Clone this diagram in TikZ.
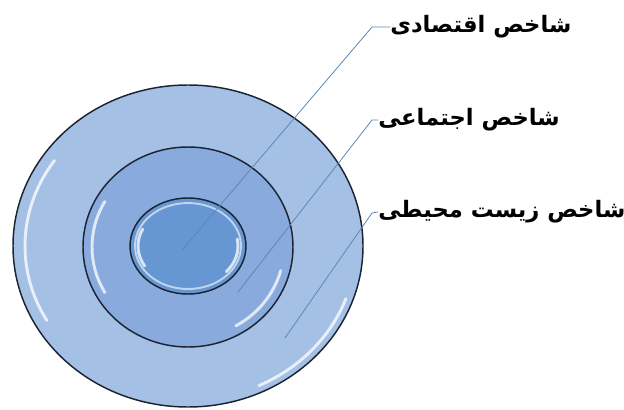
\documentclass[tikz,border=0pt]{standalone}
\usepackage{fontspec}
\newfontfamily\arabicfont[Script=Arabic]{DejaVu Sans}
\TeXXeTstate=1
\begin{document}
\begin{tikzpicture}[x=0.75pt,y=-0.75pt,line cap=round,line join=round,
    ring/.style={draw=ringline,line width=1.1pt},
    gloss/.style={white,line width=2.2pt,opacity=0.75},
    leader/.style={draw=leaderblue,line width=0.6pt},
    lbl/.style={font=\arabicfont\bfseries\fontsize{17}{18}\selectfont,inner sep=0pt,anchor=west}]
  \definecolor{outerblue}{RGB}{165,192,229}
  \definecolor{midblue}{RGB}{136,170,220}
  \definecolor{innerblue}{RGB}{102,151,210}
  \definecolor{ringline}{RGB}{28,36,52}
  \definecolor{leaderblue}{RGB}{92,134,186}
  \useasboundingbox (0,0) rectangle (624,410);

  % rings
  \fill[outerblue] (188,246) ellipse (175 and 161);
  \fill[midblue] (188,247) ellipse (105 and 100);
  \fill[innerblue] (188,246) ellipse (58 and 48);

  % gloss (y runs down, so positive angles are below the centre)
  \draw[gloss] (188,246) ++(150:163 and 149) arc[start angle=150,end angle=215,x radius=163,y radius=149];
  \draw[gloss] (188,246) ++(20:168 and 154) arc[start angle=20,end angle=65,x radius=168,y radius=154];
  \draw[gloss] (188,247) ++(150:96 and 91) arc[start angle=150,end angle=210,x radius=96,y radius=91];
  \draw[gloss] (188,247) ++(15:96 and 91) arc[start angle=15,end angle=60,x radius=96,y radius=91];
  \draw[white,line width=1.4pt,opacity=0.6] (188,246) ellipse (53 and 43);
  \draw[gloss] (188,246) ++(150:50 and 40) arc[start angle=150,end angle=205,x radius=50,y radius=40];
  \draw[gloss] (188,246) ++(-10:50 and 40) arc[start angle=-10,end angle=40,x radius=50,y radius=40];

  % borders
  \draw[ring] (188,246) ellipse (175 and 161);
  \draw[ring] (188,247) ellipse (105 and 100);
  \draw[ring] (188,246) ellipse (58 and 48);

  % labels
  \node[lbl] (econ) at (390,27) {\beginR شاخص اقتصادی\endR};
  \node[lbl] (social) at (378,120) {\beginR شاخص اجتماعی\endR};
  \node[lbl] (envir) at (378,212) {\beginR شاخص زیست محیطی\endR};

  % leader lines
  \coordinate (econknee) at (372,27);
  \coordinate (econend) at (182,250);
  \coordinate (socialknee) at (372,120);
  \coordinate (socialend) at (238,292);
  \coordinate (envirknee) at (372,213);
  \coordinate (envirend) at (285,338);
  \draw[leader] (econ.west) -- (econknee) -- (econend);
  \draw[leader] (social.west) -- (socialknee) -- (socialend);
  \draw[leader] (envir.west) -- (envirknee) -- (envirend);
\end{tikzpicture}
\end{document}
